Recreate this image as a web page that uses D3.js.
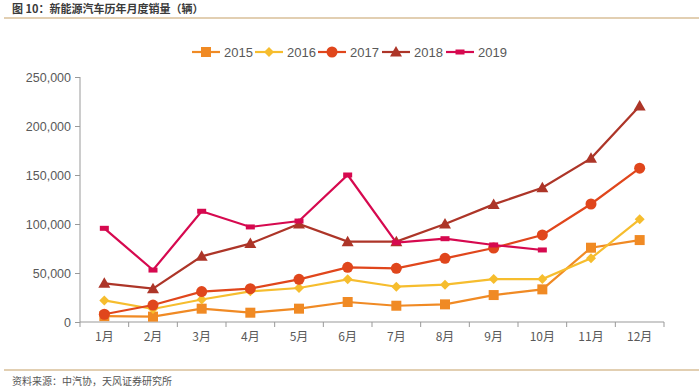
<!DOCTYPE html>
<html><head><meta charset="utf-8">
<script src="https://cdn.jsdelivr.net/npm/d3@7"></script>
<style>
body{margin:0;background:#fff;}
svg{display:block;font-family:"Liberation Sans","Noto Sans CJK SC",Arial,sans-serif;}
</style></head>
<body><svg id="c" width="699" height="392"></svg>
<script>
const months = ["1月","2月","3月","4月","5月","6月","7月","8月","9月","10月","11月","12月"];
const years = ["2015","2016","2017","2018","2019"];
const s2015 = [6000,5500,13600,9500,13600,20400,16600,18000,27500,33300,75800,83600];
const s2016 = [22000,13300,23000,31300,34700,43500,36000,38100,43800,43800,65000,104800];
const s2017 = [7900,17300,31000,34000,43500,55800,54800,65000,75500,88800,120400,157000];
const s2018 = [39500,34000,67000,80000,100000,82000,82000,100000,120000,137000,167000,220400];
const s2019 = [95600,53000,113000,97000,103000,150000,81000,85000,78600,73500];
const yTicks = [0,50000,100000,150000,200000,250000];

const series = [s2015,s2016,s2017,s2018,s2019];
const colors = ["#f08a24","#f6bd2e","#e0461c","#ad3528","#d6094f"];
const markers = ["square","diamond","circle","triangle","dash"];

const svg = d3.select("#c");
const x = d3.scaleBand().domain(months).range([80,664]);
const y = d3.scaleLinear().domain([0,250000]).range([322,77]);

// title
svg.append("text").attr("x",12).attr("y",13).attr("font-size",11).attr("font-weight","bold")
  .attr("fill","#3a3a3a").attr("font-family","Noto Sans CJK SC, sans-serif").text("图 10：新能源汽车历年月度销量（辆）");
svg.append("line").attr("x1",4).attr("x2",699).attr("y1",18).attr("y2",18).attr("stroke","#e2cfb2").attr("stroke-width",2);
// footer
svg.append("line").attr("x1",4).attr("x2",699).attr("y1",370).attr("y2",370).attr("stroke","#e2cfb2").attr("stroke-width",2);
svg.append("text").attr("x",12).attr("y",385).attr("font-size",10)
  .attr("fill","#555").attr("font-family","Noto Sans CJK SC, sans-serif").text("资料来源：中汽协，天风证券研究所");

// axes
const yAxis = d3.axisLeft(y).tickValues(yTicks).tickFormat(d3.format(",")).tickSize(5).tickPadding(4);
const gy = svg.append("g").attr("transform","translate(80,0)").call(yAxis);
gy.selectAll("text").attr("font-size",12.5).attr("fill","#595959").attr("font-family","Liberation Sans, Arial, sans-serif");
gy.selectAll("line,path").attr("stroke","#999");
gy.select(".domain").attr("d","M0,77V322");

const xAxis = d3.axisBottom(x).tickSize(0).tickPadding(10);
const gx = svg.append("g").attr("transform","translate(0,322)").call(xAxis);
gx.selectAll("text").attr("font-size",12).attr("fill","#595959").attr("font-family","Noto Sans CJK SC, sans-serif");
gx.select(".domain").attr("stroke","#999").attr("d","M80,0H664");
// band-boundary ticks
const bounds = months.map(m=>x(m)).concat([x(months[11])+x.bandwidth()]);
gx.selectAll(".bt").data(bounds).enter().append("line").attr("x1",d=>d).attr("x2",d=>d)
  .attr("y1",0).attr("y2",5).attr("stroke","#999");

function drawMarker(g, type, color, cx, cy){
  if(type==="square") g.append("rect").attr("x",cx-5).attr("y",cy-5).attr("width",10).attr("height",10).attr("fill",color);
  else if(type==="diamond") g.append("path").attr("d",`M${cx},${cy-5}L${cx+5},${cy}L${cx},${cy+5}L${cx-5},${cy}Z`).attr("fill",color);
  else if(type==="circle") g.append("circle").attr("cx",cx).attr("cy",cy).attr("r",5.5).attr("fill",color);
  else if(type==="triangle") g.append("path").attr("d",`M${cx},${cy-6}L${cx+6},${cy+4.5}L${cx-6},${cy+4.5}Z`).attr("fill",color);
  else if(type==="dash") g.append("rect").attr("x",cx-4.5).attr("y",cy-2.5).attr("width",9).attr("height",5).attr("fill",color);
}

const line = d3.line().x((d,i)=>x(months[i])+x.bandwidth()/2).y(d=>y(d));
series.forEach((s,k)=>{
  const g = svg.append("g");
  g.append("path").attr("d",line(s)).attr("fill","none").attr("stroke",colors[k]).attr("stroke-width",2.2);
  s.forEach((v,i)=>drawMarker(g, markers[k], colors[k], x(months[i])+x.bandwidth()/2, y(v)));
});

// legend
const legX = [192,255,318,382,446];
years.forEach((yr,k)=>{
  const g = svg.append("g");
  g.append("line").attr("x1",legX[k]).attr("x2",legX[k]+28).attr("y1",52).attr("y2",52).attr("stroke",colors[k]).attr("stroke-width",2.2);
  drawMarker(g, markers[k], colors[k], legX[k]+14, 52);
  g.append("text").attr("x",legX[k]+32).attr("y",56.5).attr("font-size",13).attr("fill","#595959")
    .attr("font-family","Liberation Sans, Arial, sans-serif").text(yr);
});
</script></body></html>
